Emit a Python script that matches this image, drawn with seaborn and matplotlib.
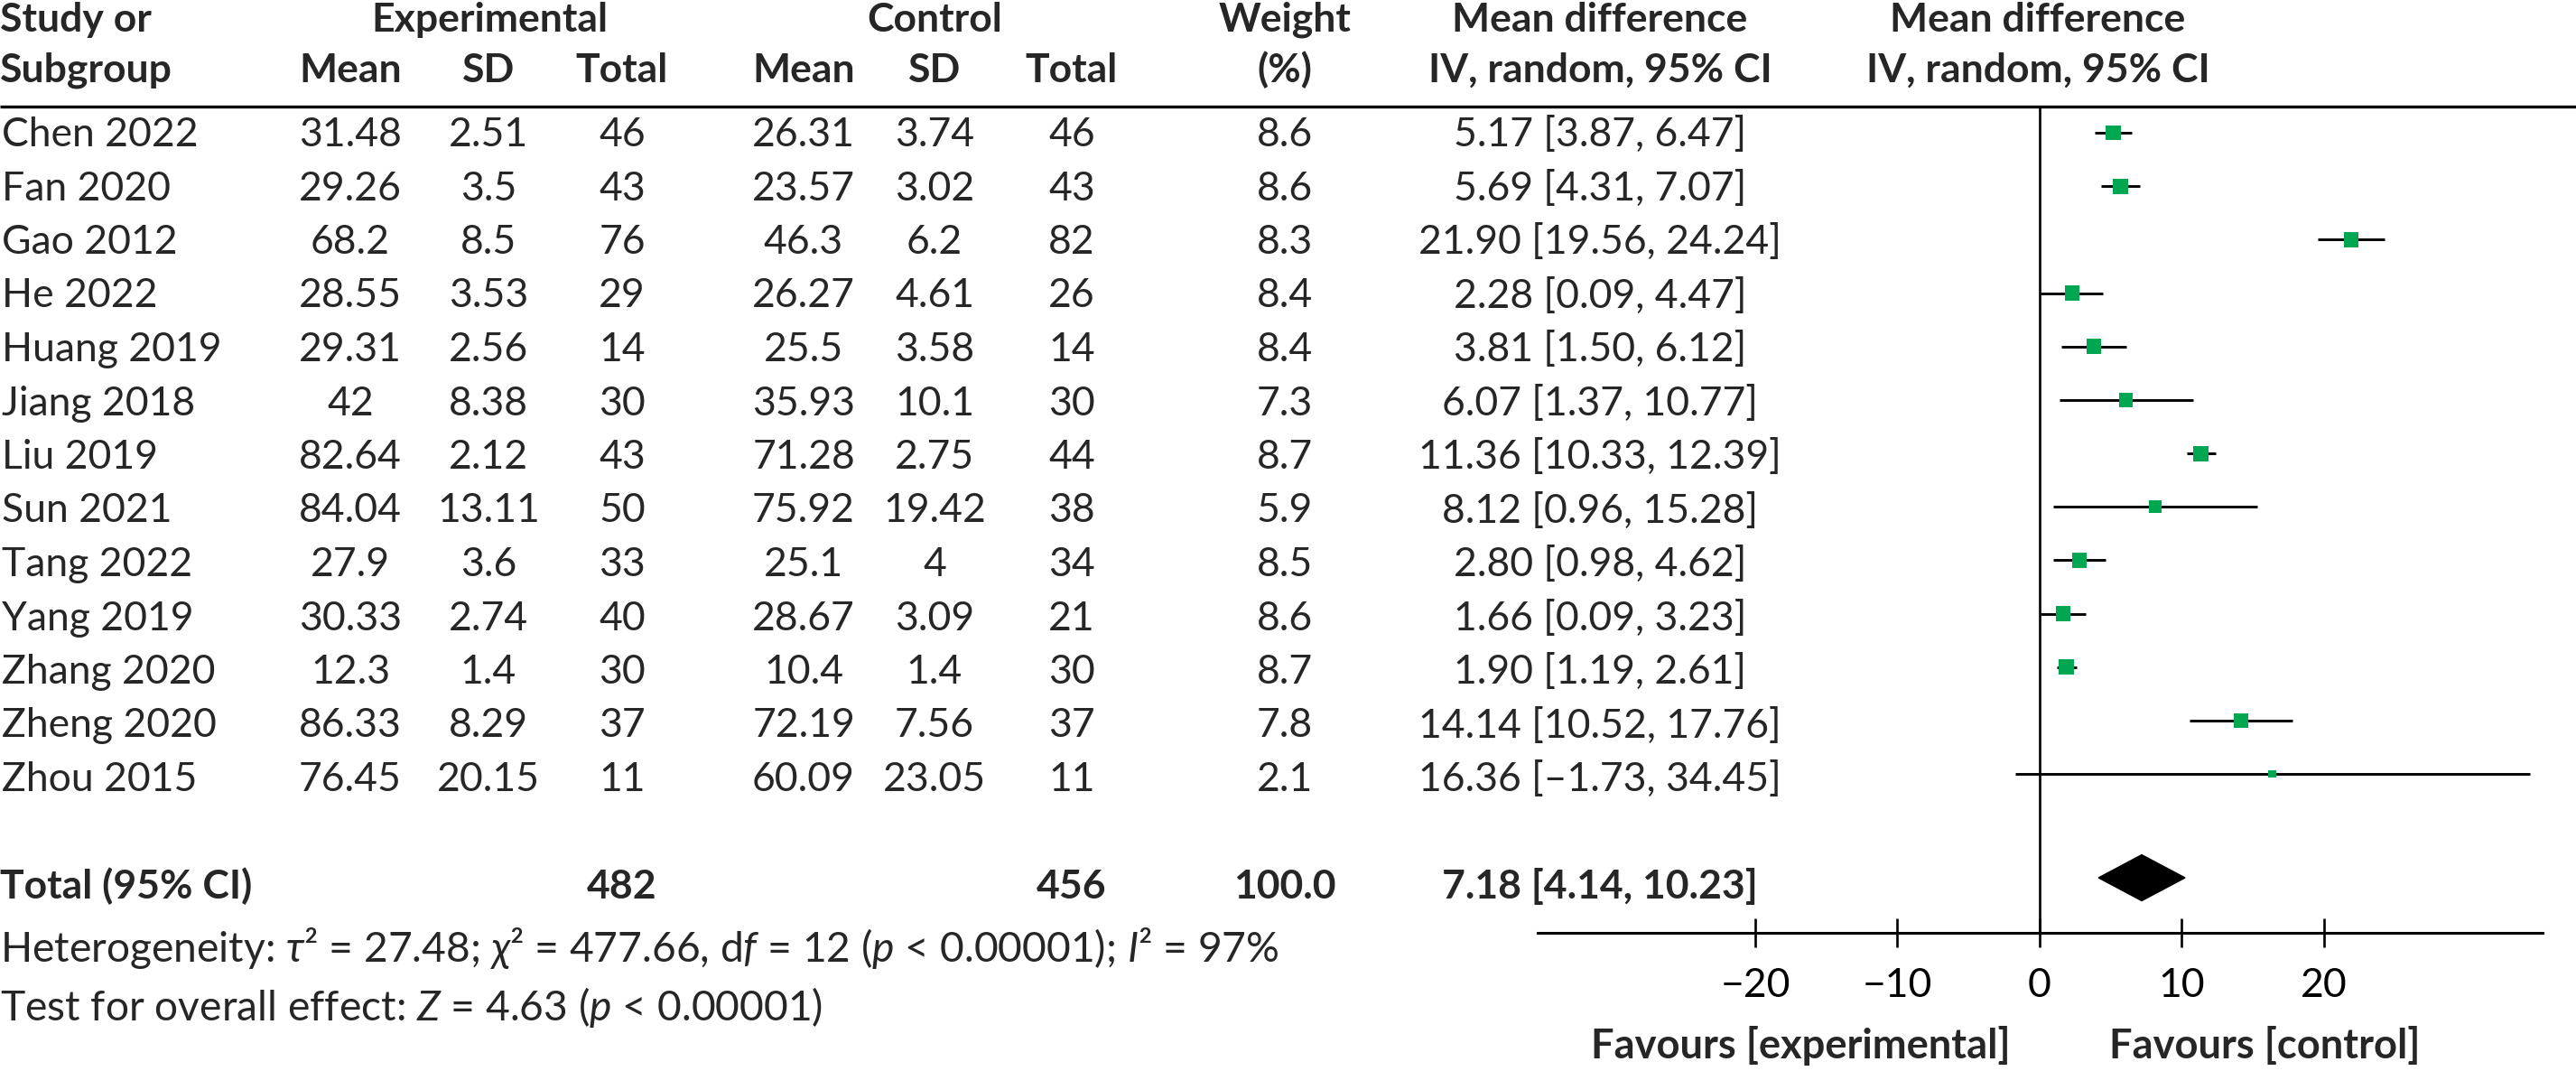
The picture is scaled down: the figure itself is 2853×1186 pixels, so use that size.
import matplotlib
matplotlib.use('Agg')
import matplotlib.pyplot as plt
import seaborn as sns
import pandas as pd
from matplotlib.patches import Polygon

# ---- data ------------------------------------------------------------------
studies = ["Chen 2022", "Fan 2020", "Gao 2012", "He 2022", "Huang 2019",
           "Jiang 2018", "Liu 2019", "Sun 2021", "Tang 2022", "Yang 2019",
           "Zhang 2020", "Zheng 2020", "Zhou 2015"]
exp_mean = ["31.48", "29.26", "68.2", "28.55", "29.31", "42", "82.64",
            "84.04", "27.9", "30.33", "12.3", "86.33", "76.45"]
exp_sd = ["2.51", "3.5", "8.5", "3.53", "2.56", "8.38", "2.12",
          "13.11", "3.6", "2.74", "1.4", "8.29", "20.15"]
exp_n = [46, 43, 76, 29, 14, 30, 43, 50, 33, 40, 30, 37, 11]
ctl_mean = ["26.31", "23.57", "46.3", "26.27", "25.5", "35.93", "71.28",
            "75.92", "25.1", "28.67", "10.4", "72.19", "60.09"]
ctl_sd = ["3.74", "3.02", "6.2", "4.61", "3.58", "10.1", "2.75",
          "19.42", "4", "3.09", "1.4", "7.56", "23.05"]
ctl_n = [46, 43, 82, 26, 14, 30, 44, 38, 34, 21, 30, 37, 11]
weight = [8.6, 8.6, 8.3, 8.4, 8.4, 7.3, 8.7, 5.9, 8.5, 8.6, 8.7, 7.8, 2.1]
md = [5.17, 5.69, 21.90, 2.28, 3.81, 6.07, 11.36, 8.12, 2.80, 1.66, 1.90, 14.14, 16.36]
ci_low = [3.87, 4.31, 19.56, 0.09, 1.50, 1.37, 10.33, 0.96, 0.98, 0.09, 1.19, 10.52, -1.73]
ci_high = [6.47, 7.07, 24.24, 4.47, 6.12, 10.77, 12.39, 15.28, 4.62, 3.23, 2.61, 17.76, 34.45]

total_exp = 482
total_ctl = 456
total_weight = 100.0
total_md, total_low, total_high = 7.18, 4.14, 10.23

heterogeneity = ("Heterogeneity: $\\tau$\u00b2 = 27.48; $\\chi$\u00b2 = 477.66, d$f$ = 12 "
                 "($p$ < 0.00001); $I$\u00b2 = 97%")
overall = "Test for overall effect: $Z$ = 4.63 ($p$ < 0.00001)"
ticks = [-20, -10, 0, 10, 20]

df = pd.DataFrame({"study": studies, "md": md, "lo": ci_low, "hi": ci_high,
                   "weight": weight, "row": range(len(studies))})

# ---- style --------------------------------------------------------------------
sns.set_style("white")
FONT = ["Lato", "DejaVu Sans"]
plt.rcParams["font.family"] = FONT
plt.rcParams["mathtext.fontset"] = "custom"
plt.rcParams["mathtext.rm"] = "Lato"
plt.rcParams["mathtext.it"] = "Lato:italic"
plt.rcParams["mathtext.bf"] = "Lato:bold"
FS = 32
GREEN = "#00a651"

W, H = 2853, 1186
fig = plt.figure(figsize=(W / 100, H / 100), dpi=100)

# table layer in pixel coordinates
tab = fig.add_axes([0, 0, 1, 1])
tab.set_xlim(0, W)
tab.set_ylim(H, 0)
tab.axis("off")

def txt(x, y, s, ha="center", bold=False, size=FS):
    tab.text(x, y, s, ha=ha, va="baseline", fontsize=size,
             fontweight="bold" if bold else "normal")

# header
txt(0, 35, "Study or", ha="left", bold=True)
txt(0, 91, "Subgroup", ha="left", bold=True)
txt(542, 35, "Experimental", bold=True)
txt(1035, 35, "Control", bold=True)
for x in (388, 890):
    txt(x, 91, "Mean", bold=True)
for x in (541, 1035):
    txt(x, 91, "SD", bold=True)
for x in (689, 1187):
    txt(x, 91, "Total", bold=True)
txt(1423, 35, "Weight", bold=True)
txt(1423, 91, "(%)", bold=True)
for x in (1772, 2257):
    txt(x, 35, "Mean difference", bold=True)
    txt(x, 91, "IV, random, 95% CI", bold=True)
tab.plot([0, W], [118, 118], color="black", lw=2.4, solid_capstyle="butt")

# study rows
for i in range(len(studies)):
    y = 162 + 59.5 * i
    txt(2, y, studies[i], ha="left")
    txt(388, y, exp_mean[i])
    txt(541, y, exp_sd[i])
    txt(689, y, str(exp_n[i]))
    txt(890, y, ctl_mean[i])
    txt(1035, y, ctl_sd[i])
    txt(1187, y, str(ctl_n[i]))
    txt(1423, y, f"{weight[i]:.1f}")
    lo = f"{ci_low[i]:.2f}".replace("-", "\u2013")
    txt(1772, y, f"{md[i]:.2f} [{lo}, {ci_high[i]:.2f}]")

# total row and footnotes
txt(0, 995, "Total (95% CI)", ha="left", bold=True)
txt(689, 995, str(total_exp), bold=True)
txt(1187, 995, str(total_ctl), bold=True)
txt(1423, 995, f"{total_weight:.1f}", bold=True)
txt(1772, 995, f"{total_md:.2f} [{total_low:.2f}, {total_high:.2f}]", bold=True)
txt(0, 1065, heterogeneity, ha="left", size=33.2)
txt(0, 1130, overall, ha="left", size=33.2)
txt(1994, 1172, "Favours [experimental]", bold=True, size=32.6)
txt(2508, 1172, "Favours [control]", bold=True, size=32.6)

# ---- forest plot ----------------------------------------------------------------
ax = fig.add_axes([1703 / W, 1 - 1033 / H, (2816 - 1703) / W, (1033 - 118) / H])
ax.patch.set_alpha(0)
ax.set_xlim(-35.3, 35.37)
ax.set_ylim(14.97, -0.49)

ax.axvline(0, color="black", lw=1.9, zorder=1)
ax.hlines(df["row"], df["lo"], df["hi"], color="black", lw=2.1, zorder=2)
sns.scatterplot(data=df, x="md", y="row", size="weight", sizes=(0, 168),
                size_norm=(0, 10), marker="s", color=GREEN, linewidth=0,
                legend=False, ax=ax, zorder=3)

total_row = 13.94
half_h = 0.43
ax.add_patch(Polygon([(total_low, total_row), (total_md, total_row - half_h),
                      (total_high, total_row), (total_md, total_row + half_h)],
                     closed=True, color="black", zorder=3))

for side in ("top", "left", "right"):
    ax.spines[side].set_visible(False)
ax.spines["bottom"].set_linewidth(2.2)
ax.spines["bottom"].set_color("black")
ax.set_xticks(ticks)
ax.set_xticklabels([str(t).replace("-", "\u2212") for t in ticks])
ax.tick_params(axis="x", direction="inout", length=23, width=1.9,
               labelsize=FS, pad=16, colors="black", bottom=True)
ax.set_yticks([])
ax.set_xlabel("")
ax.set_ylabel("")

fig.savefig("out.png", dpi=100)
